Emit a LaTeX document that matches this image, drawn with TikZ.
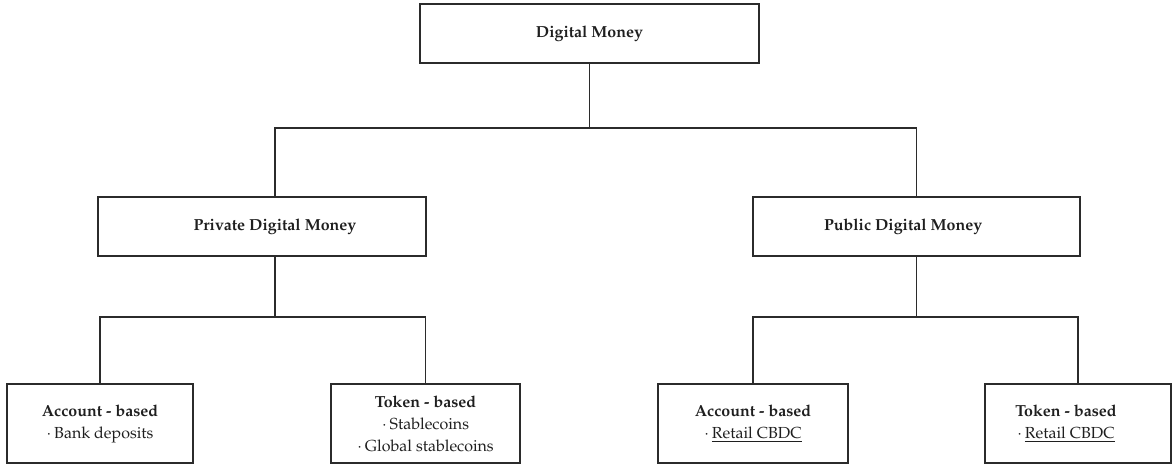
\documentclass[tikz,border=0pt]{standalone}
\usepackage[T1]{fontenc}
\usepackage{mathpazo}
\definecolor{linegray}{HTML}{2B2B2B}
\tikzset{
    every node/.style={inner sep=2pt},
    box/.style={draw=linegray, line width=1pt, rectangle, inner sep=0pt,
        align=center, text=black!88, font=\fontsize{12}{16.5}\selectfont},
    link/.style={draw=linegray, line width=1pt}
}

\begin{document}
\begin{tikzpicture}[x=0.75pt, y=-0.75pt]
    \useasboundingbox (0,0) rectangle (1172,464);

    \node[box, minimum width=254.25pt, minimum height=44.25pt] (top) at (589.5,33.5) {\textbf{Digital Money}};

    \node[box, minimum width=246pt, minimum height=44.25pt] (priv) at (262,226.5) {\hspace*{19.5pt}\textbf{Private Digital Money}};
    \node[box, minimum width=245.25pt, minimum height=44.25pt] (pub) at (916.5,226.5) {\textbf{Public Digital Money}\hspace*{20pt}};

    \node[box, minimum width=139.5pt, minimum height=59.25pt] (accA) at (100,423.5) {\textbf{Account - based}\\$\cdot$\,Bank deposits};
    \node[box, minimum width=141.75pt, minimum height=59.25pt] (tokA) at (425.5,423.5) {\textbf{Token - based}\\$\cdot$\,Stablecoins\\$\cdot$\,Global stablecoins};
    \node[box, minimum width=142.5pt, minimum height=59.25pt] (accB) at (753,423.5) {\textbf{Account - based}\\$\cdot$\,\underline{Retail CBDC}};
    \node[box, minimum width=139.5pt, minimum height=59.25pt] (tokB) at (1078,423.5) {\textbf{Token - based}\hspace*{18pt}\\$\cdot$\,\underline{Retail CBDC}\hspace*{18pt}};

    % branch levels
    \coordinate (privline) at ([xshift=9.75pt]priv.center);
    \coordinate (hub) at (0,128);
    \coordinate (hubL) at (0,317);

    \draw[link] (top.south) -- (top.south |- hub);
    \draw[link] (privline |- priv.north) |- (pub.north |- hub) -- (pub.north);

    \draw[link] (privline |- priv.south) -- (privline |- hubL);
    \draw[link] (accA.north) |- (tokA.north |- hubL) -- (tokA.north);

    \draw[link] (pub.south) -- (pub.south |- hubL);
    \draw[link] (accB.north) |- (tokB.north |- hubL) -- (tokB.north);
\end{tikzpicture}
\end{document}
